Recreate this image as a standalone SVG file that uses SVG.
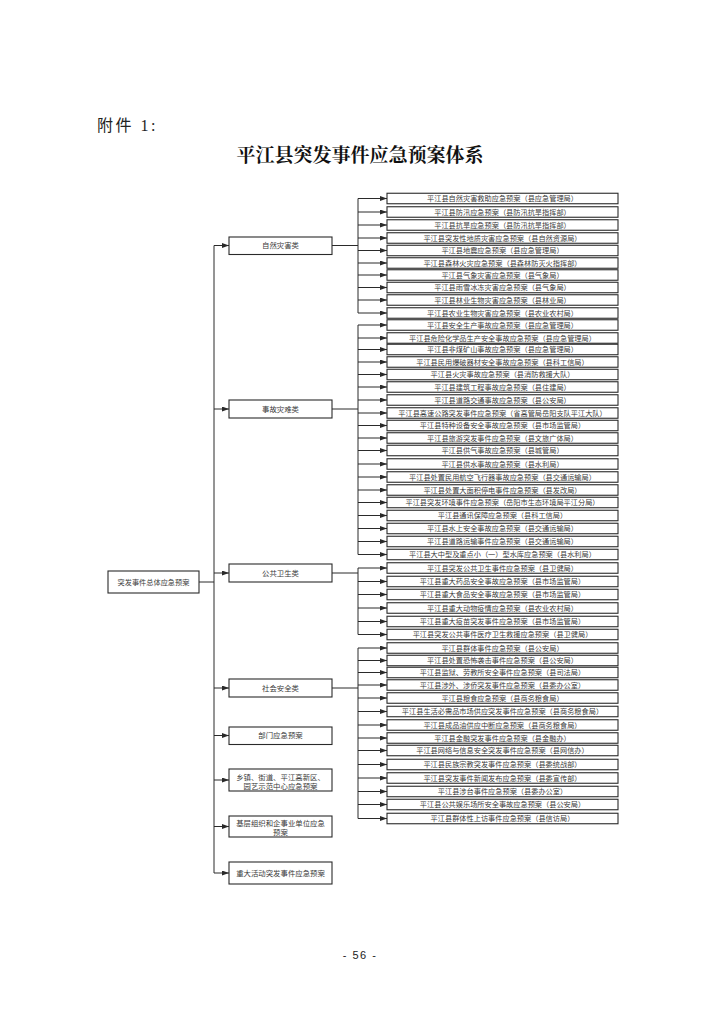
<svg xmlns="http://www.w3.org/2000/svg" width="714" height="1010" viewBox="0 0 714 1010">
<style>
.bg{fill:#fff}
.box{fill:#fff;stroke:#2a2a2a;stroke-width:1.1}
.t{font-family:"Noto Sans CJK SC","Noto Sans",sans-serif;font-size:7.2px;fill:#3a3a3a;text-anchor:middle}
.t2{font-family:"Noto Sans CJK SC","Noto Sans",sans-serif;font-size:7.4px;fill:#3a3a3a;text-anchor:middle}
.ln{stroke:#2a2a2a;stroke-width:1;fill:none}
.ar{stroke:#2a2a2a;stroke-width:1;fill:none;marker-end:url(#ah)}
</style>
<defs>
<marker id="ah" markerUnits="userSpaceOnUse" markerWidth="7" markerHeight="5" refX="7" refY="2.5" orient="auto"><path d="M0,0 L7,2.5 L0,5 z" fill="#2a2a2a"/></marker>
</defs>
<rect class="bg" x="0" y="0" width="714" height="1010"/>
<text x="97" y="131" font-family="'Liberation Serif','Noto Sans CJK SC',serif" font-size="16" letter-spacing="2.5" fill="#222">附件 1:</text>
<text x="360" y="162" text-anchor="middle" font-family="'Noto Serif CJK SC','Noto Sans CJK SC',serif" font-weight="700" font-size="19" fill="#111">平江县突发事件应急预案体系</text>
<text x="360" y="959" text-anchor="middle" font-family="'Liberation Sans',sans-serif" font-size="11" letter-spacing="1.5" fill="#222">- 56 -</text>

<g id="connectors">
<path class="ln" d="M199,582 H214 M214,245.5 V873"/>
<path class="ar" d="M214,245.5 H229"/>
<path class="ar" d="M214,409 H229"/>
<path class="ar" d="M214,573 H229"/>
<path class="ar" d="M214,688 H229"/>
<path class="ar" d="M214,735.5 H229"/>
<path class="ar" d="M214,780 H229"/>
<path class="ar" d="M214,826.5 H229"/>
<path class="ar" d="M214,873 H229"/>
<path class="ln" d="M332,245.5 H358 M358,198.5 V313"/>
<path class="ln" d="M332,409 H358 M358,325 V554.5"/>
<path class="ln" d="M332,573 H358 M358,568 V634.5"/>
<path class="ln" d="M332,688 H358 M358,648 V818.5"/>
<path class="ar" d="M358,198.5 H387"/>
<path class="ar" d="M358,212 H387"/>
<path class="ar" d="M358,225 H387"/>
<path class="ar" d="M358,238 H387"/>
<path class="ar" d="M358,250.5 H387"/>
<path class="ar" d="M358,263 H387"/>
<path class="ar" d="M358,275 H387"/>
<path class="ar" d="M358,287.5 H387"/>
<path class="ar" d="M358,300 H387"/>
<path class="ar" d="M358,313 H387"/>
<path class="ar" d="M358,325 H387"/>
<path class="ar" d="M358,338 H387"/>
<path class="ar" d="M358,349.5 H387"/>
<path class="ar" d="M358,362 H387"/>
<path class="ar" d="M358,374.5 H387"/>
<path class="ar" d="M358,387 H387"/>
<path class="ar" d="M358,400 H387"/>
<path class="ar" d="M358,413 H387"/>
<path class="ar" d="M358,425.5 H387"/>
<path class="ar" d="M358,438 H387"/>
<path class="ar" d="M358,450.5 H387"/>
<path class="ar" d="M358,464 H387"/>
<path class="ar" d="M358,477 H387"/>
<path class="ar" d="M358,490 H387"/>
<path class="ar" d="M358,502.5 H387"/>
<path class="ar" d="M358,515.5 H387"/>
<path class="ar" d="M358,528.5 H387"/>
<path class="ar" d="M358,541.5 H387"/>
<path class="ar" d="M358,554.5 H387"/>
<path class="ar" d="M358,568 H387"/>
<path class="ar" d="M358,581.5 H387"/>
<path class="ar" d="M358,594.5 H387"/>
<path class="ar" d="M358,608 H387"/>
<path class="ar" d="M358,621.5 H387"/>
<path class="ar" d="M358,634.5 H387"/>
<path class="ar" d="M358,648 H387"/>
<path class="ar" d="M358,660.5 H387"/>
<path class="ar" d="M358,672.5 H387"/>
<path class="ar" d="M358,685 H387"/>
<path class="ar" d="M358,698 H387"/>
<path class="ar" d="M358,711.5 H387"/>
<path class="ar" d="M358,725 H387"/>
<path class="ar" d="M358,738 H387"/>
<path class="ar" d="M358,750.5 H387"/>
<path class="ar" d="M358,764.5 H387"/>
<path class="ar" d="M358,778 H387"/>
<path class="ar" d="M358,791.5 H387"/>
<path class="ar" d="M358,804.5 H387"/>
<path class="ar" d="M358,818.5 H387"/>
</g>

<g id="root"><rect class="box" x="108" y="571" width="91" height="22"/><text class="t" x="153.5" y="584.7">突发事件总体应急预案</text></g>

<g id="c1"><rect class="box" x="229" y="237" width="103" height="17.5"/><text class="t2" x="280.5" y="248.3">自然灾害类</text></g>
<g id="c2"><rect class="box" x="229" y="400" width="103" height="18"/><text class="t2" x="280.5" y="411.7">事故灾难类</text></g>
<g id="c3"><rect class="box" x="229" y="564" width="103" height="18"/><text class="t2" x="280.5" y="575.7">公共卫生类</text></g>
<g id="c4"><rect class="box" x="229" y="679" width="103" height="18"/><text class="t2" x="280.5" y="690.7">社会安全类</text></g>
<g id="c5"><rect class="box" x="229" y="727" width="103" height="17.5"/><text class="t2" x="280.5" y="738.3">部门应急预案</text></g>
<g id="c6"><rect class="box" x="229" y="769" width="103" height="22"/><text class="t2" x="280.5" y="779.5">乡镇、街道、平江高新区、</text><text class="t2" x="280.5" y="788.5">园艺示范中心应急预案</text></g>
<g id="c7"><rect class="box" x="229" y="816" width="103" height="21"/><text class="t2" x="280.5" y="825.5">基层组织和企事业单位应急</text><text class="t2" x="280.5" y="834.5">预案</text></g>
<g id="c8"><rect class="box" x="229" y="862" width="103" height="22"/><text class="t2" x="280.5" y="875.7">重大活动突发事件应急预案</text></g>

<g id="p1"><rect class="box" x="387" y="193.25" width="231" height="10.5"/><text class="t" x="502.5" y="201.1">平江县自然灾害救助应急预案（县应急管理局）</text></g>
<g id="p2"><rect class="box" x="387" y="206.75" width="231" height="10.5"/><text class="t" x="502.5" y="214.6">平江县防汛应急预案（县防汛抗旱指挥部）</text></g>
<g id="p3"><rect class="box" x="387" y="219.75" width="231" height="10.5"/><text class="t" x="502.5" y="227.6">平江县抗旱应急预案（县防汛抗旱指挥部）</text></g>
<g id="p4"><rect class="box" x="387" y="232.75" width="231" height="10.5"/><text class="t" x="502.5" y="240.6">平江县突发性地质灾害应急预案（县自然资源局）</text></g>
<g id="p5"><rect class="box" x="387" y="245.25" width="231" height="10.5"/><text class="t" x="502.5" y="253.1">平江县地震应急预案（县应急管理局）</text></g>
<g id="p6"><rect class="box" x="387" y="257.75" width="231" height="10.5"/><text class="t" x="502.5" y="265.6">平江县森林火灾应急预案（县森林防灭火指挥部）</text></g>
<g id="p7"><rect class="box" x="387" y="269.75" width="231" height="10.5"/><text class="t" x="502.5" y="277.6">平江县气象灾害应急预案（县气象局）</text></g>
<g id="p8"><rect class="box" x="387" y="282.25" width="231" height="10.5"/><text class="t" x="502.5" y="290.1">平江县雨雪冰冻灾害应急预案（县气象局）</text></g>
<g id="p9"><rect class="box" x="387" y="294.75" width="231" height="10.5"/><text class="t" x="502.5" y="302.6">平江县林业生物灾害应急预案（县林业局）</text></g>
<g id="p10"><rect class="box" x="387" y="307.75" width="231" height="10.5"/><text class="t" x="502.5" y="315.6">平江县农业生物灾害应急预案（县农业农村局）</text></g>
<g id="p11"><rect class="box" x="387" y="319.75" width="231" height="10.5"/><text class="t" x="502.5" y="327.6">平江县安全生产事故应急预案（县应急管理局）</text></g>
<g id="p12"><rect class="box" x="387" y="332.75" width="231" height="10.5"/><text class="t" x="502.5" y="340.6">平江县危险化学品生产安全事故应急预案（县应急管理局）</text></g>
<g id="p13"><rect class="box" x="387" y="344.25" width="231" height="10.5"/><text class="t" x="502.5" y="352.1">平江县非煤矿山事故应急预案（县应急管理局）</text></g>
<g id="p14"><rect class="box" x="387" y="356.75" width="231" height="10.5"/><text class="t" x="502.5" y="364.6">平江县民用爆破器材安全事故应急预案（县科工信局）</text></g>
<g id="p15"><rect class="box" x="387" y="369.25" width="231" height="10.5"/><text class="t" x="502.5" y="377.1">平江县火灾事故应急预案（县消防救援大队）</text></g>
<g id="p16"><rect class="box" x="387" y="381.75" width="231" height="10.5"/><text class="t" x="502.5" y="389.6">平江县建筑工程事故应急预案（县住建局）</text></g>
<g id="p17"><rect class="box" x="387" y="394.75" width="231" height="10.5"/><text class="t" x="502.5" y="402.6">平江县道路交通事故应急预案（县公安局）</text></g>
<g id="p18"><rect class="box" x="387" y="407.75" width="231" height="10.5"/><text class="t" x="502.5" y="415.6">平江县高速公路突发事件应急预案（省高管局岳阳支队平江大队）</text></g>
<g id="p19"><rect class="box" x="387" y="420.25" width="231" height="10.5"/><text class="t" x="502.5" y="428.1">平江县特种设备安全事故应急预案（县市场监管局）</text></g>
<g id="p20"><rect class="box" x="387" y="432.75" width="231" height="10.5"/><text class="t" x="502.5" y="440.6">平江县旅游突发事件应急预案（县文旅广体局）</text></g>
<g id="p21"><rect class="box" x="387" y="445.25" width="231" height="10.5"/><text class="t" x="502.5" y="453.1">平江县供气事故应急预案（县城管局）</text></g>
<g id="p22"><rect class="box" x="387" y="458.75" width="231" height="10.5"/><text class="t" x="502.5" y="466.6">平江县供水事故应急预案（县水利局）</text></g>
<g id="p23"><rect class="box" x="387" y="471.75" width="231" height="10.5"/><text class="t" x="502.5" y="479.6">平江县处置民用航空飞行器事故应急预案（县交通运输局）</text></g>
<g id="p24"><rect class="box" x="387" y="484.75" width="231" height="10.5"/><text class="t" x="502.5" y="492.6">平江县处置大面积停电事件应急预案（县发改局）</text></g>
<g id="p25"><rect class="box" x="387" y="497.25" width="231" height="10.5"/><text class="t" x="502.5" y="505.1">平江县突发环境事件应急预案（岳阳市生态环境局平江分局）</text></g>
<g id="p26"><rect class="box" x="387" y="510.25" width="231" height="10.5"/><text class="t" x="502.5" y="518.1">平江县通讯保障应急预案（县科工信局）</text></g>
<g id="p27"><rect class="box" x="387" y="523.25" width="231" height="10.5"/><text class="t" x="502.5" y="531.1">平江县水上安全事故应急预案（县交通运输局）</text></g>
<g id="p28"><rect class="box" x="387" y="536.25" width="231" height="10.5"/><text class="t" x="502.5" y="544.1">平江县道路运输事件应急预案（县交通运输局）</text></g>
<g id="p29"><rect class="box" x="387" y="549.25" width="231" height="10.5"/><text class="t" x="502.5" y="557.1">平江县大中型及重点小（一）型水库应急预案（县水利局）</text></g>
<g id="p30"><rect class="box" x="387" y="562.75" width="231" height="10.5"/><text class="t" x="502.5" y="570.6">平江县突发公共卫生事件应急预案（县卫健局）</text></g>
<g id="p31"><rect class="box" x="387" y="576.25" width="231" height="10.5"/><text class="t" x="502.5" y="584.1">平江县重大药品安全事故应急预案（县市场监管局）</text></g>
<g id="p32"><rect class="box" x="387" y="589.25" width="231" height="10.5"/><text class="t" x="502.5" y="597.1">平江县重大食品安全事故应急预案（县市场监管局）</text></g>
<g id="p33"><rect class="box" x="387" y="602.75" width="231" height="10.5"/><text class="t" x="502.5" y="610.6">平江县重大动物疫情应急预案（县农业农村局）</text></g>
<g id="p34"><rect class="box" x="387" y="616.25" width="231" height="10.5"/><text class="t" x="502.5" y="624.1">平江县重大疫苗突发事件应急预案（县市场监管局）</text></g>
<g id="p35"><rect class="box" x="387" y="629.25" width="231" height="10.5"/><text class="t" x="502.5" y="637.1">平江县突发公共事件医疗卫生救援应急预案（县卫健局）</text></g>
<g id="p36"><rect class="box" x="387" y="642.75" width="231" height="10.5"/><text class="t" x="502.5" y="650.6">平江县群体事件应急预案（县公安局）</text></g>
<g id="p37"><rect class="box" x="387" y="655.25" width="231" height="10.5"/><text class="t" x="502.5" y="663.1">平江县处置恐怖袭击事件应急预案（县公安局）</text></g>
<g id="p38"><rect class="box" x="387" y="667.25" width="231" height="10.5"/><text class="t" x="502.5" y="675.1">平江县监狱、劳教所安全事件应急预案（县司法局）</text></g>
<g id="p39"><rect class="box" x="387" y="679.75" width="231" height="10.5"/><text class="t" x="502.5" y="687.6">平江县涉外、涉侨突发事件应急预案（县委办公室）</text></g>
<g id="p40"><rect class="box" x="387" y="692.75" width="231" height="10.5"/><text class="t" x="502.5" y="700.6">平江县粮食应急预案（县商务粮食局）</text></g>
<g id="p41"><rect class="box" x="387" y="706.25" width="231" height="10.5"/><text class="t" x="502.5" y="714.1">平江县生活必需品市场供应突发事件应急预案（县商务粮食局）</text></g>
<g id="p42"><rect class="box" x="387" y="719.75" width="231" height="10.5"/><text class="t" x="502.5" y="727.6">平江县成品油供应中断应急预案（县商务粮食局）</text></g>
<g id="p43"><rect class="box" x="387" y="732.75" width="231" height="10.5"/><text class="t" x="502.5" y="740.6">平江县金融突发事件应急预案（县金融办）</text></g>
<g id="p44"><rect class="box" x="387" y="745.25" width="231" height="10.5"/><text class="t" x="502.5" y="753.1">平江县网络与信息安全突发事件应急预案（县网信办）</text></g>
<g id="p45"><rect class="box" x="387" y="759.25" width="231" height="10.5"/><text class="t" x="502.5" y="767.1">平江县民族宗教突发事件应急预案（县委统战部）</text></g>
<g id="p46"><rect class="box" x="387" y="772.75" width="231" height="10.5"/><text class="t" x="502.5" y="780.6">平江县突发事件新闻发布应急预案（县委宣传部）</text></g>
<g id="p47"><rect class="box" x="387" y="786.25" width="231" height="10.5"/><text class="t" x="502.5" y="794.1">平江县涉台事件应急预案（县委办公室）</text></g>
<g id="p48"><rect class="box" x="387" y="799.25" width="231" height="10.5"/><text class="t" x="502.5" y="807.1">平江县公共娱乐场所安全事故应急预案（县公安局）</text></g>
<g id="p49"><rect class="box" x="387" y="813.25" width="231" height="10.5"/><text class="t" x="502.5" y="821.1">平江县群体性上访事件应急预案（县信访局）</text></g>
</svg>
